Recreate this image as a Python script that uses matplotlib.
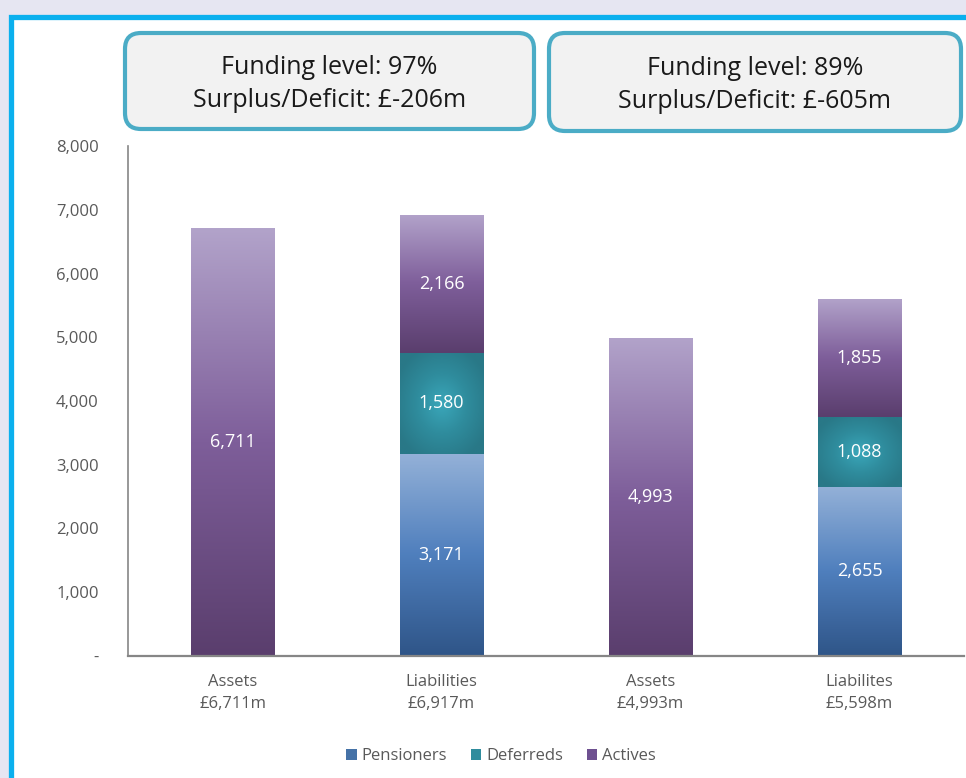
import matplotlib
matplotlib.use("Agg")
import matplotlib.pyplot as plt
import numpy as np
from matplotlib.colors import LinearSegmentedColormap
from matplotlib.patches import FancyBboxPatch, Rectangle, Patch
from matplotlib.ticker import FuncFormatter

plt.rcParams['font.family'] = ['Open Sans', 'DejaVu Sans']

# ---- data ----
categories = ["Assets\n£6,711m", "Liabilities\n£6,917m", "Assets\n£4,993m", "Liabilites\n£5,598m"]
series_names = ["Pensioners", "Deferreds", "Actives"]
pensioners = [0, 3171, 0, 2655]
deferreds = [0, 1580, 0, 1088]
actives = [6711, 2166, 4993, 1855]
box_texts = ["Funding level: 97%\nSurplus/Deficit: £-206m",
             "Funding level: 89%\nSurplus/Deficit: £-605m"]
y_ticks = [0, 1000, 2000, 3000, 4000, 5000, 6000, 7000, 8000]

W, H = 966, 778
fig = plt.figure(figsize=(W / 100, H / 100), dpi=100)
fig.patch.set_facecolor("#E6E6F2")

# pixel-space overlay for the panel and callout boxes
ov = fig.add_axes([0, 0, 1, 1], zorder=0)
ov.set_xlim(0, W)
ov.set_ylim(H, 0)
ov.axis("off")
ov.add_patch(Rectangle((11, 17), W + 20, H + 20, facecolor="white",
                       edgecolor="#0BB0EE", linewidth=3.8))

box_specs = [(125, 33, 409, 96), (549, 33, 412, 98)]
for (bx, by, bw, bh), txt in zip(box_specs, box_texts):
    ov.add_patch(FancyBboxPatch((bx, by), bw, bh,
                                boxstyle="round,pad=0,rounding_size=16",
                                facecolor="#F2F2F2", edgecolor="#4BACC6",
                                linewidth=3.0, mutation_aspect=1))
    ov.text(bx + bw / 2, by + bh / 2 + 3, txt, ha="center", va="center",
            fontsize=18, color="#1A1A1A", linespacing=1.45)

# ---- chart axes ----
ax = fig.add_axes([128 / W, (H - 656) / H, (964 - 128) / W, (656 - 146) / H], zorder=1)
ax.patch.set_alpha(0)
x = np.arange(len(categories))
width = 0.4

pens_cmap = LinearSegmentedColormap.from_list(
    "pens", ["#2F5588", "#4F7FBD", "#94B1D8"])
act_cmap = LinearSegmentedColormap.from_list(
    "act", ["#5A3E6D", "#7E5E9A", "#B2A3CA"])
def_cmap = LinearSegmentedColormap.from_list(
    "def", ["#3AA7BA", "#2F8C9D", "#297887"])

def vertical_fill(bar, cmap):
    x0, y0 = bar.get_x(), bar.get_y()
    w, h = bar.get_width(), bar.get_height()
    grad = np.linspace(1, 0, 256).reshape(-1, 1)
    im = ax.imshow(grad, cmap=cmap, aspect="auto", origin="upper",
                   extent=(x0, x0 + w, y0, y0 + h), zorder=2,
                   interpolation="bilinear")
    im.set_clip_path(bar)

def radial_fill(bar, cmap):
    x0, y0 = bar.get_x(), bar.get_y()
    w, h = bar.get_width(), bar.get_height()
    gx, gy = np.meshgrid(np.linspace(-1, 1, 120), np.linspace(-1, 1, 120))
    r = np.clip(np.sqrt(gx ** 2 + gy ** 2) / 1.2, 0, 1)
    im = ax.imshow(r, cmap=cmap, aspect="auto", origin="upper",
                   extent=(x0, x0 + w, y0, y0 + h), zorder=2,
                   interpolation="bilinear", vmin=0, vmax=1)
    im.set_clip_path(bar)

pens = np.array(pensioners)
defs = np.array(deferreds)
acts = np.array(actives)

b1 = ax.bar(x, pens, width, color="none", edgecolor="none", zorder=1)
b2 = ax.bar(x, defs, width, bottom=pens, color="none", edgecolor="none", zorder=1)
b3 = ax.bar(x, acts, width, bottom=pens + defs, color="none", edgecolor="none", zorder=1)

for bars, vals, filler, cmap in [(b1, pens, vertical_fill, pens_cmap),
                                 (b2, defs, radial_fill, def_cmap),
                                 (b3, acts, vertical_fill, act_cmap)]:
    for bar, v in zip(bars, vals):
        if v > 0:
            filler(bar, cmap)
            ax.text(bar.get_x() + bar.get_width() / 2,
                    bar.get_y() + bar.get_height() / 2, f"{v:,}",
                    ha="center", va="center", color="white", fontsize=13,
                    zorder=3)

ax.set_xlim(-0.5, 3.5)
ax.set_ylim(0, 8000)
ax.set_yticks(y_ticks)
ax.yaxis.set_major_formatter(FuncFormatter(lambda v, p: "-" if v == 0 else f"{int(v):,}"))
ax.set_xticks(x)
ax.set_xticklabels(categories, fontsize=12, color="#595959", linespacing=1.5)
ax.tick_params(axis="y", length=0, pad=21, labelsize=12, labelcolor="#595959")
ax.tick_params(axis="x", length=0, pad=13)
for s in ["top", "right"]:
    ax.spines[s].set_visible(False)
ax.spines["left"].set_color("#868686")
ax.spines["bottom"].set_color("#868686")
ax.spines["left"].set_linewidth(1.2)
ax.spines["bottom"].set_linewidth(1.6)

# legend
handles = [Patch(facecolor="#4572A7", edgecolor="none"),
           Patch(facecolor="#2F8C9D", edgecolor="none"),
           Patch(facecolor="#6E5090", edgecolor="none")]
leg = fig.legend(handles, series_names, loc="center", ncol=3,
                 bbox_to_anchor=(501 / W, (H - 756) / H), frameon=False,
                 fontsize=12, handlelength=0.65, handleheight=0.65,
                 handletextpad=0.3, columnspacing=1.4)
for t in leg.get_texts():
    t.set_color("#595959")

fig.savefig("out.png", dpi=100, facecolor=fig.get_facecolor())
